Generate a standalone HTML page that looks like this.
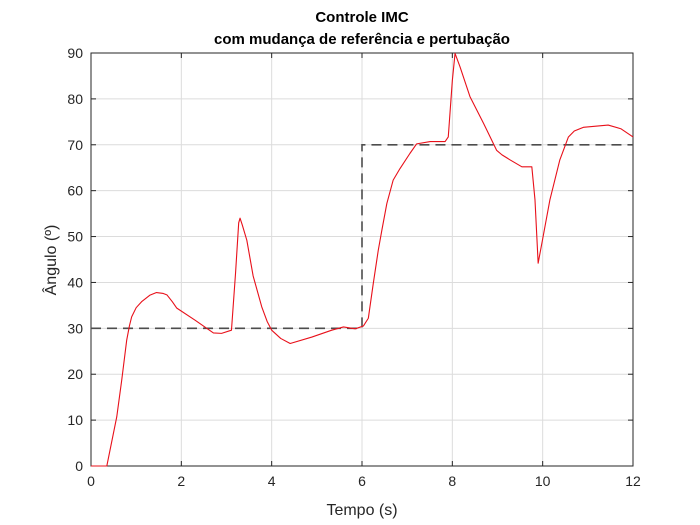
<!DOCTYPE html>
<html><head><meta charset="utf-8"><style>
body{margin:0;background:#fff}
svg{display:block;font-family:"Liberation Sans",sans-serif}
</style></head><body>
<svg id="c" width="700" height="525"></svg>
<script>
const xTicks=[0,2,4,6,8,10,12];
const yTicks=[0,10,20,30,40,50,60,70,80,90];
const refT=[0,6,6,12];
const refA=[30,30,70,70];
const respT=[0,0.35,0.57,0.68,0.79,0.85,0.90,1.0,1.12,1.3,1.45,1.6,1.68,1.80,1.90,2.30,2.71,2.89,3.11,3.20,3.27,3.30,3.35,3.45,3.59,3.78,3.9,4.0,4.2,4.41,4.89,5.33,5.59,5.85,6.03,6.14,6.25,6.36,6.44,6.55,6.69,6.84,7.06,7.21,7.51,7.84,7.91,8.0,8.06,8.17,8.39,8.69,8.98,9.1,9.28,9.54,9.76,9.83,9.90,10.01,10.16,10.38,10.57,10.7,10.90,11.45,11.73,12.0];
const respA=[0,0,10.7,18.7,27.4,30.5,32.5,34.5,35.8,37.2,37.8,37.6,37.3,35.8,34.4,31.8,29.0,28.9,29.6,42,53,54,52.5,49.2,41.4,34.7,31.5,29.6,27.8,26.7,28.1,29.6,30.3,29.9,30.5,32.2,39.8,47,51.4,57.2,62.3,64.8,68.1,70.2,70.7,70.7,71.7,84,89.9,87.0,80.5,74.7,68.8,67.8,66.7,65.2,65.2,58,44.2,50,58,66.7,71.7,73,73.8,74.3,73.5,71.7];
const L=91,R=633,T=53,B=466;
const sx=t=>L+(t-0)/12*(R-L);
const sy=a=>B-a/90*(B-T);
const svg=document.getElementById('c');
const NS='http://www.w3.org/2000/svg';
function mk(tag,attrs,parent){const e=document.createElementNS(NS,tag);for(const k in attrs)e.setAttribute(k,attrs[k]);(parent||svg).appendChild(e);return e;}
const grid=mk('g',{});


xTicks.forEach(t=>{mk('line',{x1:sx(t),x2:sx(t),y1:T,y2:B,stroke:'#dcdcdc','stroke-width':1},grid);
 mk('line',{x1:sx(t),x2:sx(t),y1:B,y2:B-5,stroke:'#262626'},grid);mk('line',{x1:sx(t),x2:sx(t),y1:T,y2:T+5,stroke:'#262626'},grid);
 const tx=mk('text',{x:sx(t),y:B+20,'text-anchor':'middle','font-size':14,fill:'#262626'});tx.textContent=t;
 
 });
yTicks.forEach(a=>{mk('line',{x1:L,x2:R,y1:sy(a),y2:sy(a),stroke:'#dcdcdc','stroke-width':1},grid);
 mk('line',{x1:L,x2:L+5,y1:sy(a),y2:sy(a),stroke:'#262626'},grid);mk('line',{x1:R,x2:R-5,y1:sy(a),y2:sy(a),stroke:'#262626'},grid);
 const tx=mk('text',{x:L-8,y:sy(a)+5,'text-anchor':'end','font-size':14,fill:'#262626'});tx.textContent=a;
 
 });
const box=mk('rect',{x:L,y:T,width:R-L,height:B-T,fill:'none',stroke:'#262626','stroke-width':1});


const ref=mk('polyline',{points:refT.map((t,i)=>sx(t)+','+sy(refA[i])).join(' '),fill:'none',stroke:'#4d4d4d','stroke-width':1.6,'stroke-dasharray':'10,6'});


const resp=mk('polyline',{points:respT.map((t,i)=>sx(t)+','+sy(respA[i])).join(' '),fill:'none',stroke:'#e8101a','stroke-width':1.1,'stroke-linejoin':'round'});


const t1=mk('text',{x:362,y:22,'text-anchor':'middle','font-size':15,'font-weight':'bold',fill:'#000'});t1.textContent='Controle IMC';


const t2=mk('text',{x:362,y:44,'text-anchor':'middle','font-size':15,'font-weight':'bold',fill:'#000'});t2.textContent='com mudança de referência e pertubação';


const xl=mk('text',{x:362,y:515,'text-anchor':'middle','font-size':16,fill:'#262626'});xl.textContent='Tempo (s)';


const yl=mk('text',{x:0,y:0,'text-anchor':'middle','font-size':16,fill:'#262626',transform:'translate(56,260) rotate(-90)'});yl.textContent='Ângulo (º)';


</script>
</body></html>
